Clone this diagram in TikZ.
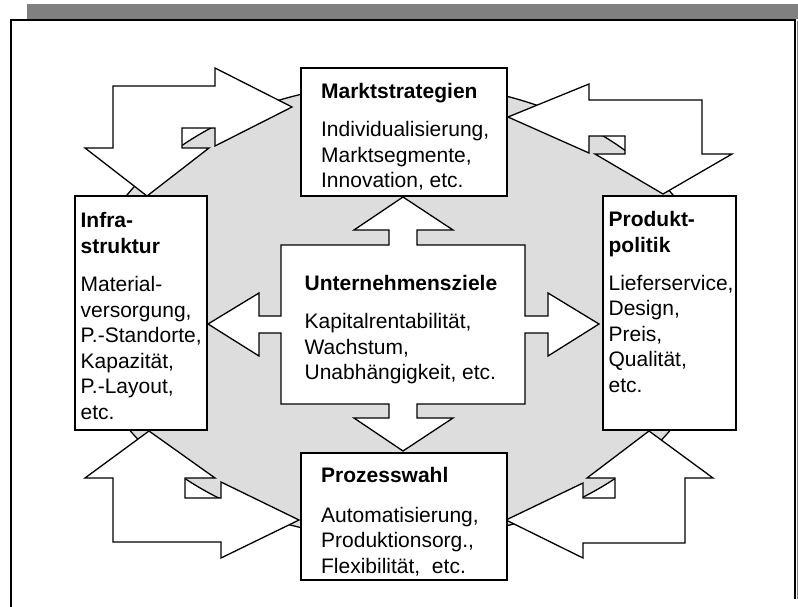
\documentclass[tikz,border=0pt]{standalone}
\usepackage{fontspec}
\setmainfont{Liberation Sans}
\definecolor{bargray}{RGB}{128,128,128}
\definecolor{ellgray}{RGB}{221,221,221}
\newcommand\blk[1]{\begin{tabular}[t]{@{}l@{}}#1\end{tabular}}
\begin{document}
\begin{tikzpicture}[x=1pt,y=-1pt,line width=1.3pt,line join=miter,
  box/.style={draw,fill=white,inner sep=0pt,outer sep=0pt,anchor=north west},
  txt/.style={anchor=base west,inner sep=0pt,font=\fontsize{21}{25.5}\selectfont},
  blockarrow/.style={draw,fill=white}]
\useasboundingbox (0,0) rectangle (798,607);
% frame
\fill[bargray] (27,4) rectangle (798,19);
\draw (11,607) -- (11,20) -- (795,20) -- (795,599);
\draw[bargray,line width=1pt] (797.2,21) -- (797.2,599);
% background ellipse
\draw[fill=ellgray] (400,311) ellipse [x radius=317, y radius=228];
% corner bent double arrows
\path[blockarrow] (215,68) -- (292,107) -- (215,146) -- (215,128) -- (182,128) -- (182,148)
  -- (209,148) -- (147,196) -- (85,148) -- (113,148) -- (113,86) -- (215,86) -- cycle;
\path[blockarrow] (508,117) -- (589,84) -- (589,100) -- (702,100) -- (702,154) -- (732,154)
  -- (663,194) -- (595,154) -- (625,154) -- (625,136) -- (589,136) -- (589,153) -- cycle;
\path[blockarrow] (149,431) -- (215,478) -- (185,478) -- (185,498) -- (221,498) -- (221,482)
  -- (299,520) -- (221,558) -- (221,542) -- (113,542) -- (113,478) -- (85,478) -- cycle;
\path[blockarrow] (649,431) -- (713,478) -- (685,478) -- (685,543) -- (583,543) -- (583,558)
  -- (506,520) -- (583,483) -- (583,498) -- (615,498) -- (615,478) -- (587,478) -- cycle;
% central cross
\path[blockarrow] (403,197) -- (453,230) -- (417,230) -- (417,245) -- (525,245) -- (525,316)
  -- (548,316) -- (548,293) -- (599,324) -- (548,356) -- (548,333) -- (525,333) -- (525,404)
  -- (417,404) -- (417,418) -- (453,418) -- (403,451) -- (354,418) -- (389,418) -- (389,404)
  -- (281,404) -- (281,333) -- (259,333) -- (259,356) -- (208,324) -- (259,293) -- (259,316)
  -- (281,316) -- (281,245) -- (389,245) -- (389,230) -- (354,230) -- cycle;
% boxes
\node[box,minimum width=206pt,minimum height=128pt] (markt) at (301,68) {};
\node[box,minimum width=132pt,minimum height=234pt] (infra) at (75,196) {};
\node[box,minimum width=133pt,minimum height=234pt] (prod) at (603,196) {};
\node[box,minimum width=206pt,minimum height=127pt] (proz) at (301,453) {};
% texts
\node[txt] (tmarkt) at (320.5,98.3) {\blk{\textbf{Marktstrategien}\\[13pt]
  Individualisierung,\\ Marktsegmente,\\ Innovation, etc.}};
\node[txt] (tinfra) at (80,227) {\blk{\textbf{Infra-}\\[0.5pt] \textbf{struktur}\\[13pt]
  Material-\\ versorgung,\\ P.-Standorte,\\ Kapazität,\\ P.-Layout,\\ etc.}};
\node[txt] (tprod) at (608,226) {\blk{\textbf{Produkt-}\\[0.5pt] \textbf{politik}\\[12.5pt]
  Lieferservice,\\ Design,\\ Preis,\\ Qualität,\\ etc.}};
\node[txt] (tproz) at (320.5,482.5) {\blk{\textbf{Prozesswahl}\\[14pt]
  Automatisierung,\\ Produktionsorg.,\\ Flexibilität,\ \ etc.}};
\node[txt] (tziele) at (304,290.5) {\blk{\textbf{Unternehmensziele}\\[12.5pt]
  Kapitalrentabilität,\\ Wachstum,\\ Unabhängigkeit, etc.}};
\end{tikzpicture}
\end{document}
